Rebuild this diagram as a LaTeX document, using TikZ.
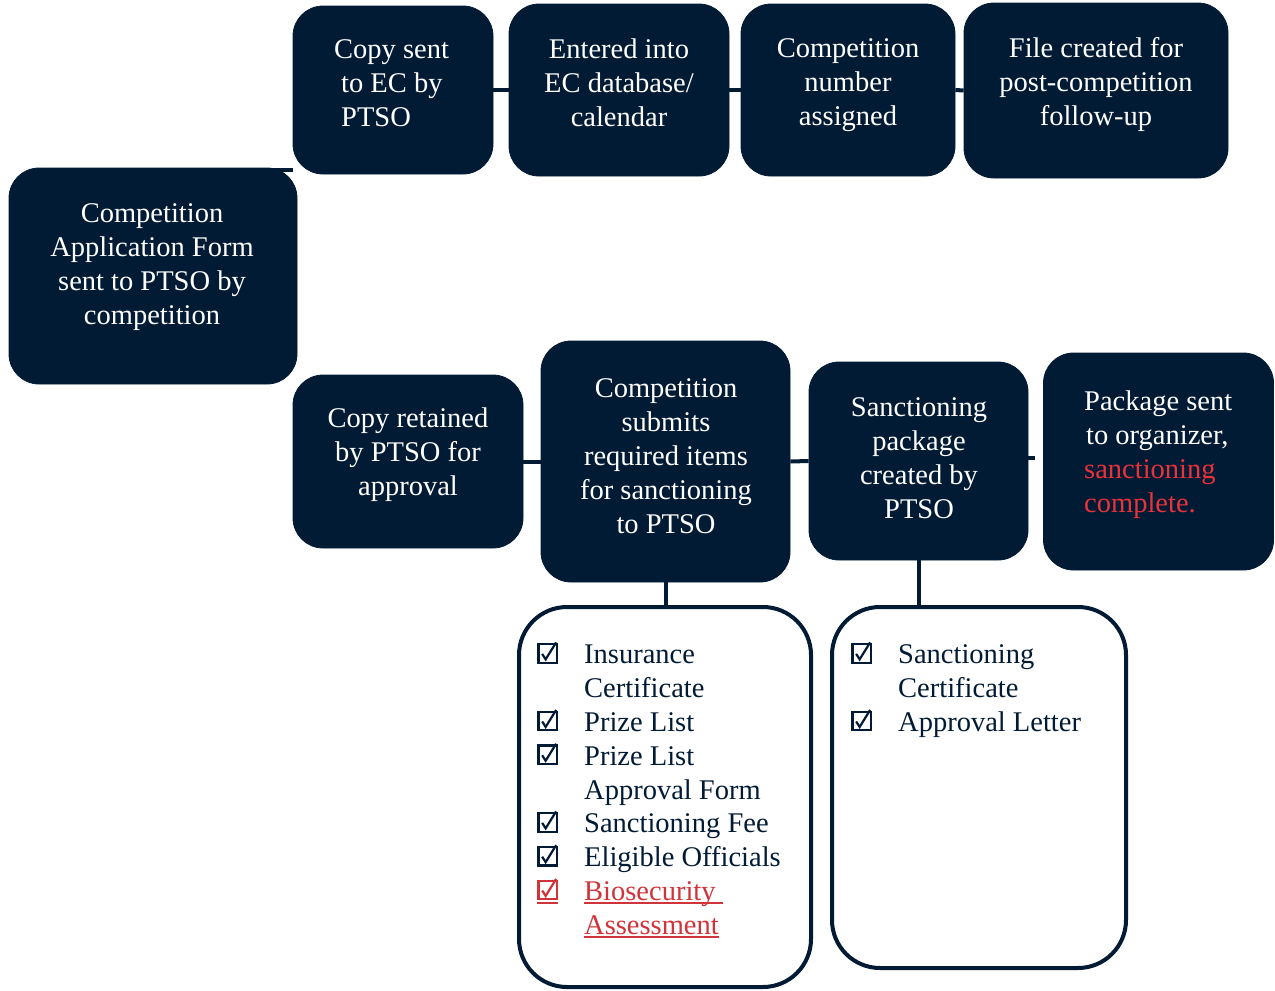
\documentclass[tikz,border=0pt]{standalone}
\usepackage{fontspec}
\setmainfont{Liberation Serif}
\usepackage{array}
\definecolor{navy}{RGB}{2,27,53}
\definecolor{redt}{RGB}{232,51,58}
\definecolor{redl}{RGB}{208,52,58}
\newcommand\myul[1]{\leavevmode\setbox0\hbox{#1}\rlap{\rule[-3.5pt]{\wd0}{1.6pt}}\box0}
\newcommand\cbx{\tikz[x=1pt,y=1pt,baseline=0pt]{\draw[line width=2.3pt] (1.2,1.2) rectangle (19.8,19.8);
  \draw[line width=2.2pt, line join=miter] (5,10) -- (8.5,4.5) -- (19,21.5);}}
\tikzset{
  dbox/.style={draw=navy, fill=navy, rounded corners=30pt, line width=0.8pt, inner sep=0pt},
  lbox/.style={draw=navy, fill=white, line width=4pt, rounded corners=48pt, inner sep=0pt},
  conn/.style={draw=navy, line width=4pt},
  wtxt/.style={text=white, font=\fontsize{28.5}{34}\selectfont, align=center, inner sep=0pt},
  ltxt/.style={text=navy, font=\fontsize{28.5}{33.8}\selectfont, inner sep=0pt, anchor=north west},
}
\begin{document}
\begin{tikzpicture}[x=1pt,y=-1pt]
\useasboundingbox (0,0) rectangle (1275,991);
% boxes
\node[dbox, minimum width=288pt, minimum height=216pt] (A) at (153,276) {};
\node[dbox, minimum width=200pt, minimum height=168pt] (B1) at (393,90) {};
\node[dbox, minimum width=220pt, minimum height=172pt] (B2) at (619,90) {};
\node[dbox, minimum width=214pt, minimum height=172pt] (B3) at (848,90) {};
\node[dbox, minimum width=264pt, minimum height=175pt] (B4) at (1096,90.5) {};
\node[dbox, minimum width=230pt, minimum height=173pt] (C1) at (408,461.5) {};
\node[dbox, minimum width=249pt, minimum height=241pt] (C2) at (665.5,461.5) {};
\node[dbox, minimum width=219pt, minimum height=198pt] (C3) at (918.5,461) {};
\node[dbox, minimum width=230pt, minimum height=217pt] (C4) at (1158.5,461.5) {};
\node[lbox, minimum width=292pt, minimum height=380pt] (L1) at (665,797) {};
\node[lbox, minimum width=294pt, minimum height=361pt] (L2) at (979,787.5) {};
% connectors
\coordinate (ab) at (265,170);
\coordinate (c34) at (1035,458);
\draw[conn] (ab) -- (ab -| B1.west);
\draw[conn] (B1.east) -- (B2.west);
\draw[conn] (B2.east) -- (B3.west);
\draw[conn] (B3.east) -- (B4.west);
\draw[conn] (C1.east) -- (C2.west);
\draw[conn] (C2.east) -- (C3.west);
\draw[conn] (C3.east |- c34) -- (c34);
\draw[conn] (C2.south) -- (C2.south |- L1.north);
\draw[conn] (C3.south) -- (C3.south |- L2.north);
% texts
\node[wtxt] (At) at (152,267) {Competition\\Application Form\\sent to PTSO by\\competition};
\node[wtxt, align=left, anchor=west] (B1t) at (334,83) {Copy sent\\\hspace{7pt}to EC by\\\hspace{7pt}PTSO};
\node[wtxt] (B2t) at (619,83) {Entered into\\EC database/\\calendar};
\node[wtxt] (B3t) at (848,85) {Competition\\number\\assigned};
\node[wtxt] (B4t) at (1096,84) {File created for\\post-competition\\follow-up};
\node[wtxt] (C1t) at (408,455) {Copy retained\\by PTSO for\\approval};
\node[wtxt] (C2t) at (666,456) {Competition\\submits\\required items\\for sanctioning\\to PTSO};
\node[wtxt] (C3t) at (919,458) {Sanctioning\\package\\created by\\PTSO};
\node[wtxt, align=left, anchor=west] (C4t) at (1084,455) {Package sent\\\hspace{2pt}to organizer,\\\textcolor{redt}{sanctioning}\\\textcolor{redt}{complete.}};
% lists
\node[ltxt] (L1t) at (537,640) {\begin{tabular}{@{}p{47pt}@{}l@{}}
\cbx & Insurance\\
 & Certificate\\
\cbx & Prize List\\
\cbx & Prize List\\
 & Approval Form\\
\cbx & Sanctioning Fee\\
\cbx & Eligible Officials\\
\leavevmode\color{redl}\myul{\cbx} & \color{redl}\myul{Biosecurity\ }\\
 & \color{redl}\myul{Assessment}
\end{tabular}};
\node[ltxt] (L2t) at (851,640) {\begin{tabular}{@{}p{47pt}@{}l@{}}
\cbx & Sanctioning\\
 & Certificate\\
\cbx & Approval Letter
\end{tabular}};
\end{tikzpicture}
\end{document}
